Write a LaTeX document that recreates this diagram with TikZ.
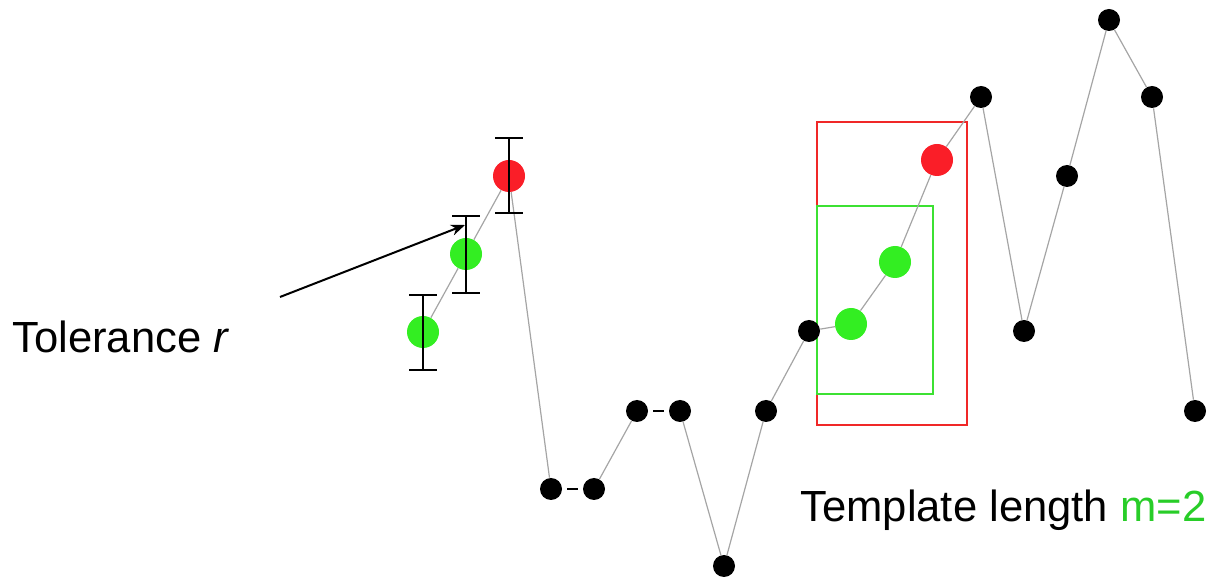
\documentclass[tikz,border=0pt]{standalone}
\usepackage{fontspec}
\setmainfont{Liberation Sans}
\usetikzlibrary{arrows.meta}
\definecolor{dotgreen}{RGB}{51,238,34}
\definecolor{dotred}{RGB}{250,30,40}
\definecolor{boxgreen}{RGB}{60,225,50}
\definecolor{boxred}{RGB}{240,40,40}
\definecolor{textgreen}{RGB}{40,205,40}
\definecolor{linegray}{RGB}{165,165,165}
\tikzset{
  bdot/.style={circle,fill=black,inner sep=0pt,minimum size=11pt},
  gdot/.style={circle,fill=dotgreen,inner sep=0pt,minimum size=16pt},
  rdot/.style={circle,fill=dotred,inner sep=0pt,minimum size=16pt},
  series/.style={draw=linegray,line width=0.6pt},
  pairdash/.style={draw=black,line width=1.3pt,shorten <=2.5pt,shorten >=2.5pt},
  errbar/.style={draw=black,line width=1pt},
  lbl/.style={font=\fontsize{21.8pt}{26pt}\selectfont,anchor=base west,inner sep=0pt}
}
\begin{document}
\begin{tikzpicture}[x=0.5pt,y=-0.5pt]
\useasboundingbox (0,0) rectangle (1212,577);
% boxes
\draw[boxred,line width=1pt] (817,122) rectangle (967,425);
\draw[boxgreen,line width=1pt] (817,206) rectangle (933,394);
% dots
\node[gdot] (p1) at (423,332) {};
\node[gdot] (p2) at (466,254) {};
\node[rdot] (p3) at (509,176) {};
\node[bdot] (p4) at (551,489) {};
\node[bdot] (p5) at (594,489) {};
\node[bdot] (p6) at (637,411) {};
\node[bdot] (p7) at (680,411) {};
\node[bdot] (p8) at (724,566) {};
\node[bdot] (p9) at (766,411) {};
\node[bdot] (p10) at (809,331) {};
\node[gdot] (p11) at (851,324) {};
\node[gdot] (p12) at (895,262) {};
\node[rdot] (p13) at (937,160) {};
\node[bdot] (p14) at (981,97) {};
\node[bdot] (p15) at (1024,331) {};
\node[bdot] (p16) at (1067,176) {};
\node[bdot] (p17) at (1109,20) {};
\node[bdot] (p18) at (1152,97) {};
\node[bdot] (p19) at (1195,411) {};
% series line
\draw[series] (p1)--(p2);
\draw[series] (p2)--(p3);
\draw[series] (p3)--(p4);
\draw[pairdash] (p4)--(p5);
\draw[series] (p5)--(p6);
\draw[pairdash] (p6)--(p7);
\draw[series] (p7)--(p8);
\draw[series] (p8)--(p9);
\draw[series] (p9)--(p10);
\draw[series] (p10)--(p11);
\draw[series] (p11)--(p12);
\draw[series] (p12)--(p13);
\draw[series] (p13)--(p14);
\draw[series] (p14)--(p15);
\draw[series] (p15)--(p16);
\draw[series] (p16)--(p17);
\draw[series] (p17)--(p18);
\draw[series] (p18)--(p19);
% error bars
\coordinate (e1t) at (423,295); \coordinate (e1b) at (423,370);
\coordinate (e2t) at (466,216); \coordinate (e2b) at (466,293);
\coordinate (e3t) at (509,138); \coordinate (e3b) at (509,213);
\foreach \t/\b in {e1t/e1b,e2t/e2b,e3t/e3b}{
  \draw[errbar] (\t)--(\b);
  \draw[errbar] ([xshift=-7]\t)--([xshift=7]\t);
  \draw[errbar] ([xshift=-7]\b)--([xshift=7]\b);
}
% arrow
\coordinate (atail) at (280,297);
\coordinate (ahead) at (465,225);
\draw[line width=1pt,-{Stealth[length=7pt,width=5.5pt]}] (atail)--(ahead);
% labels
\node[lbl] (tol) at (12,353) {Tolerance \textit{r}};
\node[lbl] (tpl) at (800,522) {Template length \textcolor{textgreen}{m=2}};
\end{tikzpicture}
\end{document}
